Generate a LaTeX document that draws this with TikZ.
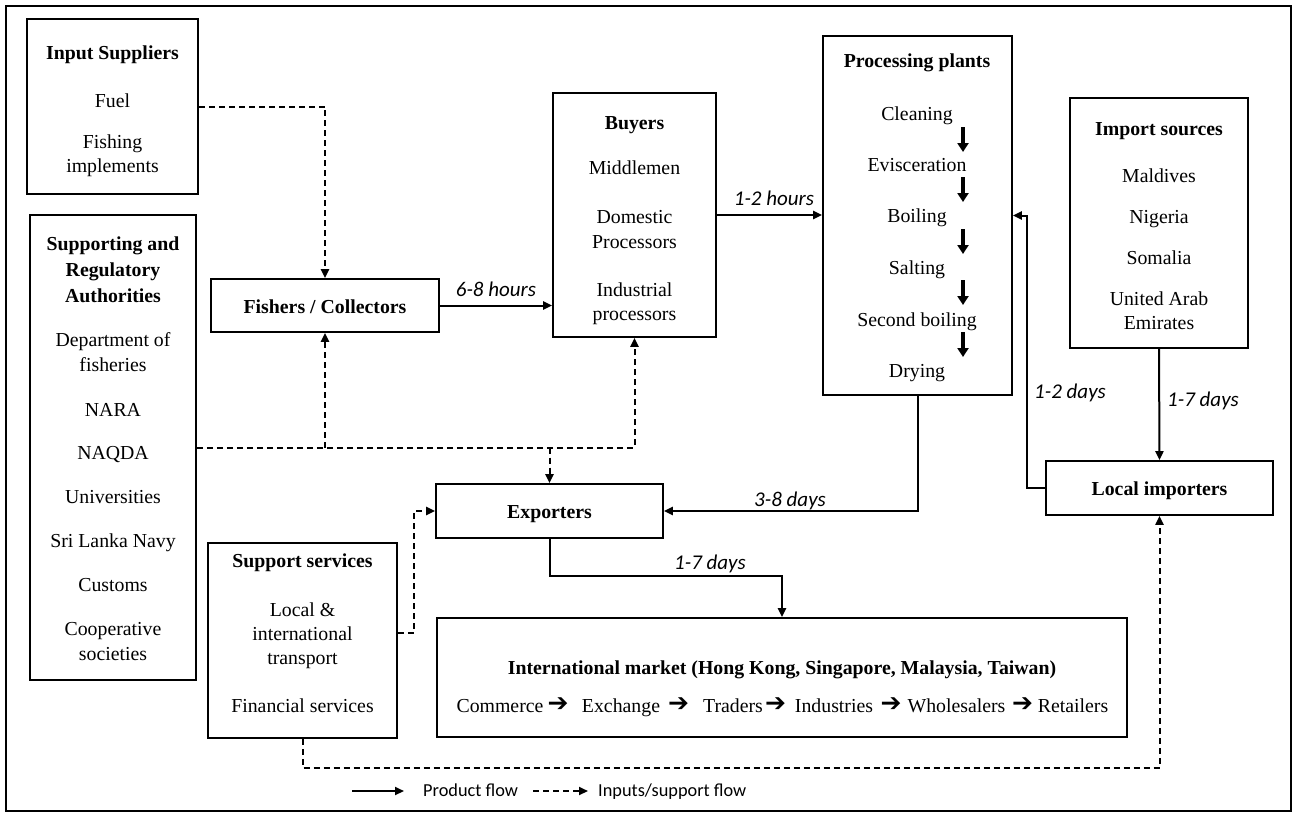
\documentclass[tikz,border=0pt]{standalone}
\usepackage{fontspec}
\setmainfont{Liberation Serif}
\newfontfamily\lblfont{Carlito}
\newfontfamily\symfont{DejaVu Sans}
\usetikzlibrary{arrows.meta}
\begin{document}
\begin{tikzpicture}[x=1pt,y=-1pt,
  box/.style={draw, line width=1.7pt, inner sep=0pt},
  txt/.style={anchor=base, inner sep=0pt, font=\fontsize{19.8}{24}\selectfont},
  ttl/.style={anchor=base, inner sep=0pt, font=\fontsize{19.8}{24}\selectfont\bfseries},
  sym/.style={anchor=center, inner sep=0pt, font=\fontsize{25}{26}\selectfont\symfont},
  lbl/.style={anchor=base, inner sep=0pt, font=\fontsize{21}{24}\selectfont\lblfont\itshape},
  leg/.style={anchor=base west, inner sep=0pt, font=\fontsize{18.3}{22}\selectfont\lblfont},
  flow/.style={line width=2pt, -{Triangle[length=9pt,width=8pt]}},
  sflow/.style={line width=2pt, dash pattern=on 6pt off 4pt, -{Triangle[length=9pt,width=8pt]}},
  thick arrow/.style={line width=3.5pt, -{Triangle[length=9pt,width=11pt]}}]
\useasboundingbox (0,0) rectangle (1296,817);
\draw[line width=1.2pt] (6,6) rectangle (1291,811);

% boxes
\node[box, minimum width=171pt, minimum height=175pt] (inp) at (112.5,106.5) {};
\node[box, minimum width=166pt, minimum height=465pt] (sup) at (113,447.5) {};
\node[box, minimum width=228pt, minimum height=53pt] (fish) at (325,305.5) {};
\node[box, minimum width=163pt, minimum height=244pt] (buy) at (634.5,215) {};
\node[box, minimum width=189pt, minimum height=359pt] (proc) at (917.5,215.5) {};
\node[box, minimum width=178pt, minimum height=250pt] (imp) at (1159,223) {};
\node[box, minimum width=227pt, minimum height=54pt] (loc) at (1159.5,488) {};
\node[box, minimum width=227pt, minimum height=54pt] (exp) at (549.5,511) {};
\node[box, minimum width=189pt, minimum height=195pt] (svc) at (302.5,640.5) {};
\node[box, minimum width=690pt, minimum height=119pt] (intl) at (782,677.5) {};

% Input suppliers
\node[ttl] (inpT) at (112.5,59) {Input Suppliers};
\node[txt] (inp1) at (112.5,107) {Fuel};
\node[txt] (inp2) at (112.5,148) {Fishing};
\node[txt] (inp3) at (112.5,172) {implements};

% Supporting
\node[ttl] (supT1) at (113,250) {Supporting and};
\node[ttl] (supT2) at (113,276) {Regulatory};
\node[ttl] (supT3) at (113,302) {Authorities};
\node[txt] (sup1) at (113,346) {Department of};
\node[txt] (sup2) at (113,371) {fisheries};
\node[txt] (sup3) at (113,416) {NARA};
\node[txt] (sup4) at (113,459) {NAQDA};
\node[txt] (sup5) at (113,503) {Universities};
\node[txt] (sup6) at (113,547) {Sri Lanka Navy};
\node[txt] (sup7) at (113,591) {Customs};
\node[txt] (sup8) at (113,635) {Cooperative};
\node[txt] (sup9) at (113,660) {societies};

% Fishers
\node[ttl] (fishT) at (325,313) {Fishers / Collectors};

% Buyers
\node[ttl] (buyT) at (634.5,129) {Buyers};
\node[txt] (buy1) at (634.5,174) {Middlemen};
\node[txt] (buy2) at (634.5,223) {Domestic};
\node[txt] (buy3) at (634.5,248) {Processors};
\node[txt] (buy4) at (634.5,296) {Industrial};
\node[txt] (buy5) at (634.5,320) {processors};

% Processing plants
\node[ttl] (procT) at (917,67) {Processing plants};
\node[txt] (p1) at (917,120) {Cleaning};
\node[txt] (p2) at (917,171) {Evisceration};
\node[txt] (p3) at (917,222) {Boiling};
\node[txt] (p4) at (917,274) {Salting};
\node[txt] (p5) at (917,326) {Second boiling};
\node[txt] (p6) at (917,377) {Drying};
\draw[thick arrow] (963,127) -- (963,152);
\draw[thick arrow] (963,177) -- (963,202);
\draw[thick arrow] (963,229) -- (963,254);
\draw[thick arrow] (963,280) -- (963,305);
\draw[thick arrow] (963,332) -- (963,357);

% Import sources
\node[ttl] (impT) at (1159,135) {Import sources};
\node[txt] (imp1) at (1159,182) {Maldives};
\node[txt] (imp2) at (1159,223) {Nigeria};
\node[txt] (imp3) at (1159,264) {Somalia};
\node[txt] (imp4) at (1159,305) {United Arab};
\node[txt] (imp5) at (1159,329) {Emirates};

% Local importers / Exporters
\node[ttl] (locT) at (1159.5,495) {Local importers};
\node[ttl] (expT) at (549.5,518) {Exporters};

% Support services
\node[ttl] (svcT) at (302.5,567) {Support services};
\node[txt] (svc1) at (302.5,616) {Local \&};
\node[txt] (svc2) at (302.5,640) {international};
\node[txt] (svc3) at (302.5,664) {transport};
\node[txt] (svc4) at (302.5,712) {Financial services};

% International market
\node[ttl] (intlT) at (782,674) {International market (Hong Kong, Singapore, Malaysia, Taiwan)};
\node[txt] (w1) at (500,712) {Commerce};
\node[sym] (a1) at (558,705) {➔};
\node[txt] (w2) at (621,712) {Exchange};
\node[sym] (a2) at (678.5,705) {➔};
\node[txt] (w3) at (733,712) {Traders};
\node[sym] (a3) at (775.5,705) {➔};
\node[txt] (w4) at (834,712) {Industries};
\node[sym] (a4) at (891,705) {➔};
\node[txt] (w5) at (956.5,712) {Wholesalers};
\node[sym] (a5) at (1022.5,705) {➔};
\node[txt] (w6) at (1073,712) {Retailers};

% product flows
\draw[flow] (fish.east) -- (fish.east -| buy.west);
\node[lbl] (l68) at (496,296) {6-8 hours};
\draw[flow] (buy.east) -- (buy.east -| proc.west);
\node[lbl] (l12h) at (774,205) {1-2 hours};
\draw[flow] (proc.south) |- (exp.east);
\node[lbl] (l38) at (790,506) {3-8 days};
\draw[flow] (imp.south) -- (loc.north);
\node[lbl] (l17a) at (1203,406) {1-7 days};
\draw[flow] (loc.west) -- ++(-18,0) |- (proc.east);
\node[lbl] (l12d) at (1070,398) {1-2 days};
\draw[flow] (exp.south) -- ++(0,37) -| (intl.north);
\node[lbl] (l17b) at (710,569) {1-7 days};

% support flows
\draw[sflow] (inp.east) -| (fish.north);
\draw[sflow] (sup.east) -| (buy.south);
\draw[sflow] (fish.south |- sup.east) -- (fish.south);
\draw[sflow] (exp.north |- sup.east) -- (exp.north);
\draw[sflow] ([yshift=8pt]svc.east) -- ++(16,0) |- (exp.west);
\draw[sflow] (svc.south) -- ++(0,29) -| (loc.south);

% legend
\coordinate (la1) at (352,791);
\coordinate (la2) at (404,791);
\coordinate (lb1) at (533,791);
\coordinate (lb2) at (588,791);
\draw[flow] (la1) -- (la2);
\node[leg] (leg1) at (423,796) {Product flow};
\draw[sflow] (lb1) -- (lb2);
\node[leg] (leg2) at (598,796) {Inputs/support flow};
\end{tikzpicture}
\end{document}
